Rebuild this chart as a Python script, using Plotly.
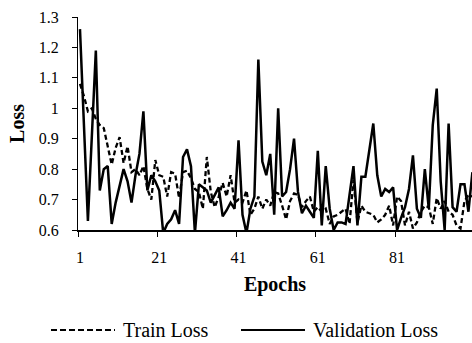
import plotly.graph_objects as go

epochs = list(range(1, 101))

train_loss = [
    1.08, 1.04, 0.99, 1.00, 0.965, 0.945, 0.935, 0.87, 0.815, 0.87,
    0.905, 0.82, 0.875, 0.79, 0.80, 0.78, 0.81, 0.735, 0.70, 0.83,
    0.78, 0.775, 0.71, 0.79, 0.785, 0.705, 0.79, 0.795, 0.77, 0.735,
    0.725, 0.67, 0.84, 0.725, 0.675, 0.71, 0.755, 0.71, 0.78, 0.69,
    0.70, 0.69, 0.73, 0.65, 0.67, 0.71, 0.67, 0.70, 0.68, 0.725,
    0.72, 0.68, 0.635, 0.695, 0.72, 0.715, 0.675, 0.695, 0.71, 0.66,
    0.675, 0.66, 0.67, 0.62, 0.645, 0.65, 0.66, 0.67, 0.62, 0.765,
    0.625, 0.68, 0.66, 0.655, 0.65, 0.625, 0.635, 0.65, 0.68, 0.615,
    0.71, 0.695, 0.615, 0.66, 0.605, 0.625, 0.66, 0.68, 0.675, 0.62,
    0.705, 0.67, 0.695, 0.66, 0.65, 0.615, 0.605, 0.695, 0.715, 0.71,
]

validation_loss = [
    1.26, 0.95, 0.63, 0.91, 1.19, 0.73, 0.80, 0.81, 0.62, 0.69,
    0.75, 0.80, 0.76, 0.69, 0.78, 0.85, 0.99, 0.73, 0.78, 0.76,
    0.73, 0.59, 0.62, 0.635, 0.665, 0.62, 0.84, 0.865, 0.81, 0.59,
    0.75, 0.74, 0.73, 0.69, 0.715, 0.74, 0.645, 0.665, 0.69, 0.67,
    0.895, 0.65, 0.59, 0.67, 0.71, 1.16, 0.825, 0.78, 0.85, 0.65,
    1.00, 0.71, 0.725, 0.80, 0.90, 0.725, 0.655, 0.68, 0.66, 0.64,
    0.86, 0.615, 0.81, 0.67, 0.60, 0.625, 0.625, 0.62, 0.715, 0.81,
    0.615, 0.775, 0.775, 0.87, 0.95, 0.78, 0.71, 0.735, 0.725, 0.74,
    0.60, 0.64, 0.675, 0.735, 0.845, 0.67, 0.64, 0.80, 0.67, 0.945,
    1.065, 0.76, 0.60, 0.95, 0.675, 0.66, 0.75, 0.75, 0.66, 0.79,
]

x_tick_labels = ["1", "21", "41", "61", "81"]
y_ticks = [0.6, 0.7, 0.8, 0.9, 1.0, 1.1, 1.2, 1.3]
y_tick_labels = ["0.6", "0.7", "0.8", "0.9", "1", "1.1", "1.2", "1.3"]

FONT = "Liberation Serif"
TICKFONT = dict(family=FONT, size=16, color="black")

fig = go.Figure()
fig.add_trace(go.Scatter(
    x=epochs, y=train_loss, mode="lines", name="Train Loss",
    line=dict(color="black", width=2.3, dash="5px,3px"), showlegend=False,
))
fig.add_trace(go.Scatter(
    x=epochs, y=validation_loss, mode="lines", name="Validation Loss",
    line=dict(color="black", width=2.5), showlegend=False,
))

L, R, T, B = 78, 0, 17, 113
W, H = 472, 343
pw = W - L - R
ph = H - T - B

def px(p):
    return (p - L) / pw

def py(q):
    return (H - B - q) / ph

fig.update_layout(
    width=W, height=H,
    margin=dict(l=L, r=R, t=T, b=B, pad=0),
    paper_bgcolor="white", plot_bgcolor="white",
    font=dict(family=FONT, size=16, color="black"),
    xaxis=dict(
        range=[0.5, 99.9],
        tickmode="array",
        tickvals=[0.5, 20.5, 40.5, 60.5, 80.5],
        ticktext=x_tick_labels,
        ticklabelshift=2,
        ticklabelstandoff=7,
        tickfont=TICKFONT,
        ticks="outside", ticklen=5, tickwidth=1, tickcolor="black",
        showline=True, linecolor="black", linewidth=2,
        showgrid=False, zeroline=False,
        title=dict(text="<b>Epochs</b>", font=dict(size=20, family=FONT), standoff=12),
        automargin=False,
    ),
    yaxis=dict(
        range=[0.6, 1.3],
        tickmode="array",
        tickvals=y_ticks,
        ticktext=y_tick_labels,
        ticklabelstandoff=10,
        tickfont=TICKFONT,
        ticks="outside", ticklen=5, tickwidth=1, tickcolor="black",
        showline=True, linecolor="black", linewidth=1,
        showgrid=False, zeroline=False,
        title=dict(text="<b>Loss</b>", font=dict(size=20, family=FONT), standoff=8),
        automargin=False,
    ),
)

# Manual legend (bottom)
ly = py(330)
fig.add_shape(type="line", xref="paper", yref="paper",
              x0=px(51), x1=px(115), y0=ly, y1=ly,
              line=dict(color="black", width=2, dash="6px,3px"))
fig.add_annotation(xref="paper", yref="paper", x=px(121), y=ly,
                   text="Train Loss", showarrow=False, xanchor="left",
                   yanchor="middle", font=dict(size=20, family=FONT))
fig.add_shape(type="line", xref="paper", yref="paper",
              x0=px(241), x1=px(305), y0=ly, y1=ly,
              line=dict(color="black", width=2))
fig.add_annotation(xref="paper", yref="paper", x=px(311), y=ly,
                   text="Validation Loss", showarrow=False, xanchor="left",
                   yanchor="middle", font=dict(size=20, family=FONT))

fig.write_html("out.html",
               config={"displayModeBar": False},
               post_script="document.body.style.margin='0';document.body.style.padding='0';")
